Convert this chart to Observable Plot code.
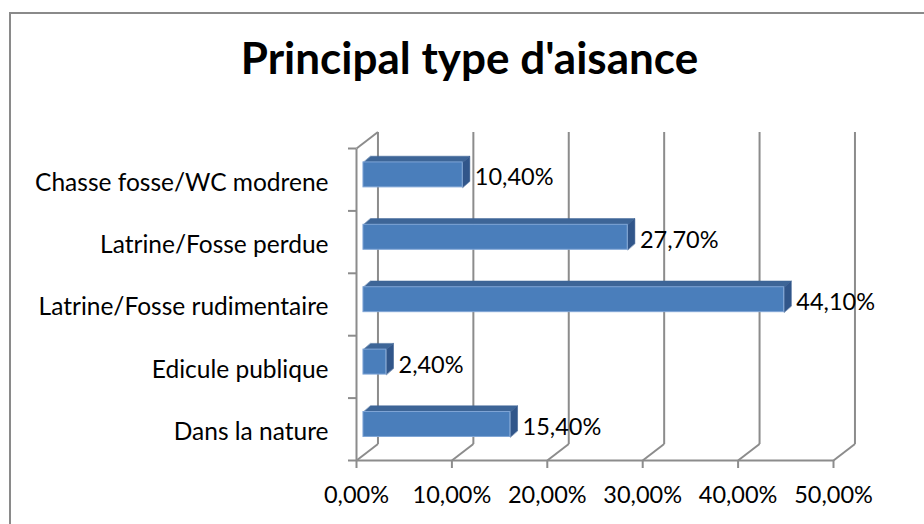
<!DOCTYPE html>
<html>
<head>
<meta charset="utf-8">
<script src="https://cdn.jsdelivr.net/npm/d3@7"></script>
<script src="https://cdn.jsdelivr.net/npm/@observablehq/plot@0.6"></script>
<style>
  html, body { margin: 0; padding: 0; background: #fff; overflow: hidden; width: 924px; height: 524px; }
  #frame { position: absolute; left: 9px; top: 12px; width: 2000px; height: 2000px; border: 2px solid #8a8a8a; box-sizing: border-box; }
  #title { position: absolute; left: 0; top: 0; width: 924px; height: 110px; box-sizing: border-box; padding-top: 35px; padding-left: 15px;
           text-align: center; font-family: Lato, sans-serif; font-weight: bold; font-size: 44px; line-height: 44px; color: #000; }
  #chart { position: absolute; left: 0; top: 110px; }
</style>
</head>
<body>
<div id="frame"></div>
<div id="title">Principal type d'aisance</div>
<div id="chart"></div>
<script>
// ---- data ----
const categories = ["Chasse fosse/WC modrene", "Latrine/Fosse perdue", "Latrine/Fosse rudimentaire", "Edicule publique", "Dans la nature"];
const values = [10.4, 27.7, 44.1, 2.4, 15.4];
const xTicks = [0, 10, 20, 30, 40, 50];

// ---- 3D look (in data units of the scales) ----
const DX = 2.25, DY = 0.264;     // depth of the back wall
const BOX = 0.73, BOY = 0.077;   // bar plane offset
const BDX = 0.75, BDY = 0.1;     // bar depth
const BH = 0.2;                  // half bar thickness

const fmt = v => d3.format(".2f")(v).replace(".", ",") + "%";
const n = categories.length;
const bars = categories.map((c, k) => ({cat: c, v: values[k], c: (n - 1 - k) + 0.5 + BOY}));

const topFaces = bars.flatMap((b, k) => [
  {id: k, x: BOX, y: b.c + BH},
  {id: k, x: b.v + BOX, y: b.c + BH},
  {id: k, x: b.v + BOX + BDX, y: b.c + BH + BDY},
  {id: k, x: BOX + BDX, y: b.c + BH + BDY}
]);
const sideFaces = bars.flatMap((b, k) => [
  {id: k, x: b.v + BOX, y: b.c - BH},
  {id: k, x: b.v + BOX, y: b.c + BH},
  {id: k, x: b.v + BOX + BDX, y: b.c + BH + BDY},
  {id: k, x: b.v + BOX + BDX, y: b.c - BH + BDY}
]);

const grid = "#8c8c8c";
const fs = 23.5;
const fsCat = 24.5;

const plot = Plot.plot({
  width: 924, height: 414,
  marginLeft: 356, marginRight: 91, marginTop: 38, marginBottom: 64,
  x: {domain: [0, 50], label: null},
  y: {domain: [0, n], label: null},
  style: {fontFamily: "Lato, sans-serif", fontSize: fs + "px", color: "#000", background: "transparent", overflow: "visible"},
  marks: [
    // back wall gridlines
    Plot.link(xTicks, {x1: d => d + DX, x2: d => d + DX, y1: DY, y2: n + DY, stroke: grid, strokeWidth: 2}),
    // floor diagonals
    Plot.link(xTicks, {x1: d => d, y1: 0, x2: d => d + DX, y2: DY, stroke: grid, strokeWidth: 2}),
    // left wall top edge
    Plot.link([n], {x1: 0, y1: d => d, x2: DX, y2: d => d + DY, stroke: grid, strokeWidth: 2}),
    // front axis lines
    Plot.link([0], {x1: 0, y1: 0, x2: 0, y2: n, stroke: grid, strokeWidth: 2}),
    Plot.link([0], {x1: 0, y1: 0, x2: 50, y2: 0, stroke: grid, strokeWidth: 2}),
    // bars
    Plot.line(topFaces, {x: "x", y: "y", z: "id", fill: "#3d6597", stroke: "#3d6597", strokeWidth: 0.5, curve: "linear-closed"}),
    Plot.line(sideFaces, {x: "x", y: "y", z: "id", fill: "#31568a", stroke: "#31568a", strokeWidth: 0.5, curve: "linear-closed"}),
    Plot.rect(bars, {x1: BOX, x2: d => d.v + BOX, y1: d => d.c - BH, y2: d => d.c + BH, fill: "#4a7ebb", stroke: "#7fa5d6", strokeWidth: 1}),
    // value labels
    Plot.text(bars, {x: d => d.v + BOX + BDX, y: d => d.c, text: d => fmt(d.v), textAnchor: "start", dx: 5, dy: 3, fill: "#000", fontSize: fs}),
    // axes
    Plot.axisY({ticks: d3.range(0, n + 1), tickSize: 8, tickFormat: () => "", label: null, stroke: grid, strokeWidth: 2}),
    Plot.axisY({ticks: d3.range(n).map(i => i + 0.5), tickSize: 0, tickPadding: 28, dy: 3, label: null,
                tickFormat: t => categories[n - 1 - Math.floor(t)], fill: "#000", fontSize: fsCat}),
    Plot.axisX({ticks: xTicks, tickSize: 8, tickPadding: 18, tickFormat: fmt, label: null, stroke: grid, strokeWidth: 2, fill: "#000", fontSize: fs})
  ]
});
document.getElementById("chart").appendChild(plot);
</script>
</body>
</html>
